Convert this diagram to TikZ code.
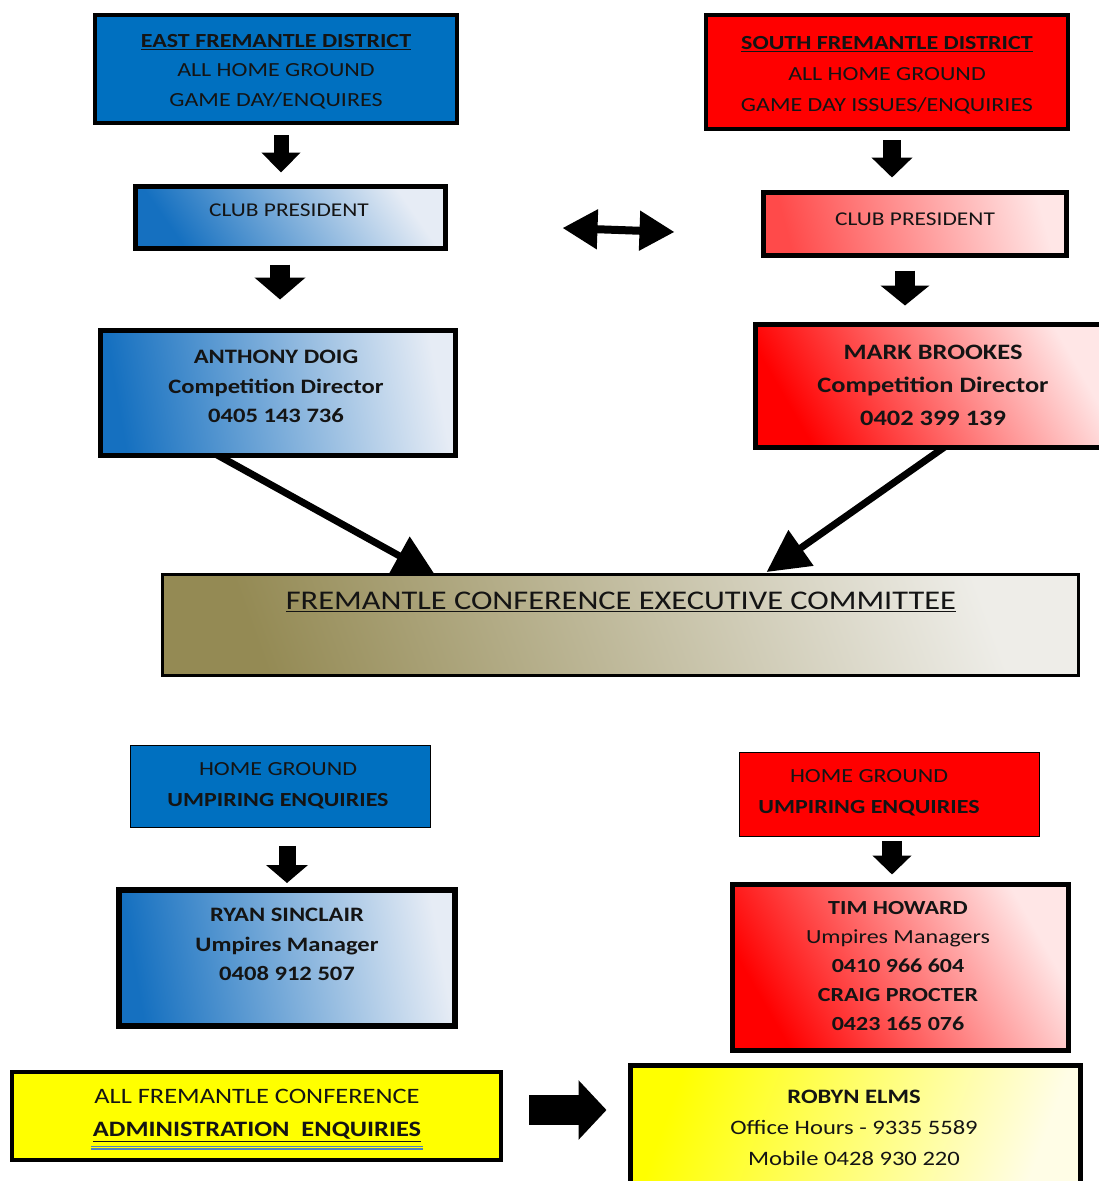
\documentclass[tikz,border=0pt]{standalone}
\usepackage{fontspec}
\setmainfont{Carlito}[FakeStretch=1.2]
\usetikzlibrary{arrows.meta,calc,backgrounds}
\definecolor{blueSolid}{HTML}{0070C0}
\definecolor{blueDark}{HTML}{1570C0}
\definecolor{blueLight}{HTML}{E6ECF5}
\definecolor{redSolid}{HTML}{FF0000}
\definecolor{redMid}{HTML}{FF4A4A}
\definecolor{redLight}{HTML}{FFE6E6}
\definecolor{yelSolid}{HTML}{FFFF00}
\definecolor{yelLight}{HTML}{FFFDE6}
\definecolor{olive}{HTML}{948A54}
\definecolor{oliveLight}{HTML}{EEEDE8}
\definecolor{ulblue}{HTML}{4F81BD}
\definecolor{txt}{HTML}{141414}
\begin{document}
\begin{tikzpicture}[x=1pt,y=-1pt,
  box/.style={draw=black, rectangle, inner sep=0pt},
  blueG/.style={left color=blueDark, right color=blueLight, shading angle=100},
  redG/.style={left color=redSolid, right color=redLight, shading angle=120},
  yelG/.style={left color=yelSolid, right color=yelLight, shading angle=70},
  oliveG/.style={left color=olive, right color=oliveLight, shading angle=110},
  lbl/.style={align=center, text=txt, inner sep=0pt},
  fs/.style 2 args={font=\fontsize{#1}{#2}\selectfont},
  fsb/.style 2 args={font=\fontsize{#1}{#2}\selectfont\bfseries},
  blk/.style={draw=black, line width=15pt, -{Triangle[length=20pt,width=38pt]}},
  blkL/.style={draw=black, line width=20pt, -{Triangle[length=22pt,width=50pt]}},
  diag/.style={draw=black, line width=7pt, -{Triangle[length=42pt,width=42pt]}},
  dbl/.style={draw=black, line width=8pt, {Triangle[length=35pt,width=38pt]}-{Triangle[length=35pt,width=38pt]}}
]
\useasboundingbox (0,0) rectangle (1099,1181);

% boxes
\node[box, line width=4pt, fill=blueSolid, minimum width=362pt, minimum height=108pt] (east) at (276,69) {};
\node[box, line width=5pt, blueG, shading angle=125, minimum width=310pt, minimum height=62pt] (clubL) at (290,217) {};
\node[box, line width=5pt, blueG, minimum width=355pt, minimum height=125pt] (anthony) at (277.5,392.5) {};
\node[box, line width=4pt, fill=redSolid, minimum width=362pt, minimum height=114pt] (south) at (887,72) {};
\node[box, line width=5pt, left color=redMid, right color=redLight, shading angle=105, minimum width=303pt, minimum height=63pt] (clubR) at (914.5,223.5) {};
\node[box, line width=5pt, redG, minimum width=356pt, minimum height=123pt] (mark) at (933,385.5) {};
\node[box, line width=3pt, oliveG, minimum width=916pt, minimum height=101pt] (committee) at (620.5,625) {};
\node[box, line width=1.5pt, fill=blueSolid, minimum width=300pt, minimum height=82pt] (umpL) at (280.5,786.5) {};
\node[box, line width=6pt, blueG, minimum width=336pt, minimum height=136pt] (ryan) at (287,958) {};
\node[box, line width=1.5pt, fill=redSolid, minimum width=300pt, minimum height=84pt] (umpR) at (889.5,794.5) {};
\node[box, line width=5pt, redG, minimum width=336pt, minimum height=166pt] (tim) at (900,967) {};
\node[box, line width=4pt, fill=yelSolid, minimum width=489pt, minimum height=88pt] (admin) at (256.5,1116) {};
\node[box, line width=5pt, yelG, minimum width=450pt, minimum height=126pt] (robyn) at (855,1128) {};

% texts
\node[lbl, fs={20}{29.5}] (eastT) at (276,71.5) {\textbf{\underline{EAST FREMANTLE DISTRICT}}\\ALL HOME GROUND\\GAME DAY/ENQUIRES};
\node[lbl, fs={20}{31}] (southT) at (887,75) {\textbf{\underline{SOUTH FREMANTLE DISTRICT}}\\ALL HOME GROUND\\GAME DAY ISSUES/ENQUIRIES};
\node[lbl, fs={19.5}{24}] (clubLT) at (289,210) {CLUB PRESIDENT};
\node[lbl, fs={19.5}{24}] (clubRT) at (915,219) {CLUB PRESIDENT};
\node[lbl, fsb={20.5}{29.5}] (anthonyT) at (276,386.5) {ANTHONY DOIG\\Competition Director\\0405 143 736};
\node[lbl, fsb={22}{33}] (markT) at (933,385) {MARK BROOKES\\Competition Director\\0402 399 139};
\node[lbl, fs={27}{32}] (committeeT) at (621,602) {\underline{FREMANTLE CONFERENCE EXECUTIVE COMMITTEE}};
\node[lbl, fs={20}{31}] (umpLT) at (278,785.5) {HOME GROUND\\\textbf{UMPIRING ENQUIRIES}};
\node[lbl, fsb={20.5}{29.5}] (ryanT) at (287,944.5) {RYAN SINCLAIR\\Umpires Manager\\0408 912 507};
\node[lbl, fs={20}{31}] (umpRT) at (869,792.5) {HOME GROUND\\\textbf{UMPIRING ENQUIRIES}};
\node[lbl, fs={20}{29}] (timT) at (898,966) {\textbf{TIM HOWARD}\\Umpires Managers\\\textbf{0410 966 604}\\\textbf{CRAIG PROCTER}\\\textbf{0423 165 076}};
\node[lbl, fs={22}{33}] (adminT) at (257,1115.5) {ALL FREMANTLE CONFERENCE\\\textbf{\underline{ADMINISTRATION\ \ ENQUIRIES}}};
\node[lbl, fs={20.5}{31}] (robynT) at (854,1128) {\textbf{ROBYN ELMS}\\Office Hours - 9335 5589\\Mobile 0428 930 220};

% blue double underline under admin line
\draw[ulblue, line width=1.2pt] (91,1146.5) -- (423,1146.5);
\draw[ulblue, line width=1.2pt] (91,1149) -- (423,1149);

% block arrows
\draw[blk] ($(east.south)+(5,10)$) -- ($(clubL.north)+(-9,-11)$);
\draw[blkL] ($(clubL.south)+(-10,14)$) -- ($(anthony.north)+(2.5,-28)$);
\draw[blk, line width=18pt, -{Triangle[length=20pt,width=40pt]}] ($(south.south)+(5,9)$) -- ($(clubR.north)+(-22.5,-12)$);
\draw[blkL, line width=20pt, -{Triangle[length=20pt,width=48pt]}] ($(clubR.south)+(-9.5,13)$) -- ($(mark.north)+(-28,-16)$);
\draw[blk, line width=17pt, -{Triangle[length=18pt,width=41pt]}] ($(umpL.south)+(6.5,17.5)$) -- ($(ryan.north)+(0,-4)$);
\draw[blk, line width=20pt, -{Triangle[length=19pt,width=38pt]}] ($(umpR.south)+(2.5,3.5)$) -- ($(tim.north)+(-8,-7)$);
\draw[blk, line width=30pt, -{Triangle[length=28pt,width=58pt]}] ($(admin.east)+(26,-6)$) -- ($(robyn.west)+(-21,-18)$);
\draw[dbl] ($(clubL.east)+(115,11)$) -- ($(clubR.west)+(-86,8.5)$);

% diagonal connectors behind boxes
\begin{scope}[on background layer]
\draw[diag] ($(anthony.south west)!0.33!(anthony.south east)+(0,-3)$) -- ($(committee.north west)!0.299!(committee.north east)+(0,3)$);
\draw[diag] ($(mark.south west)!0.534!(mark.south east)+(0,-3)$) -- ($(committee.north west)!0.659!(committee.north east)+(0,-1)$);
\end{scope}
\end{tikzpicture}
\end{document}
